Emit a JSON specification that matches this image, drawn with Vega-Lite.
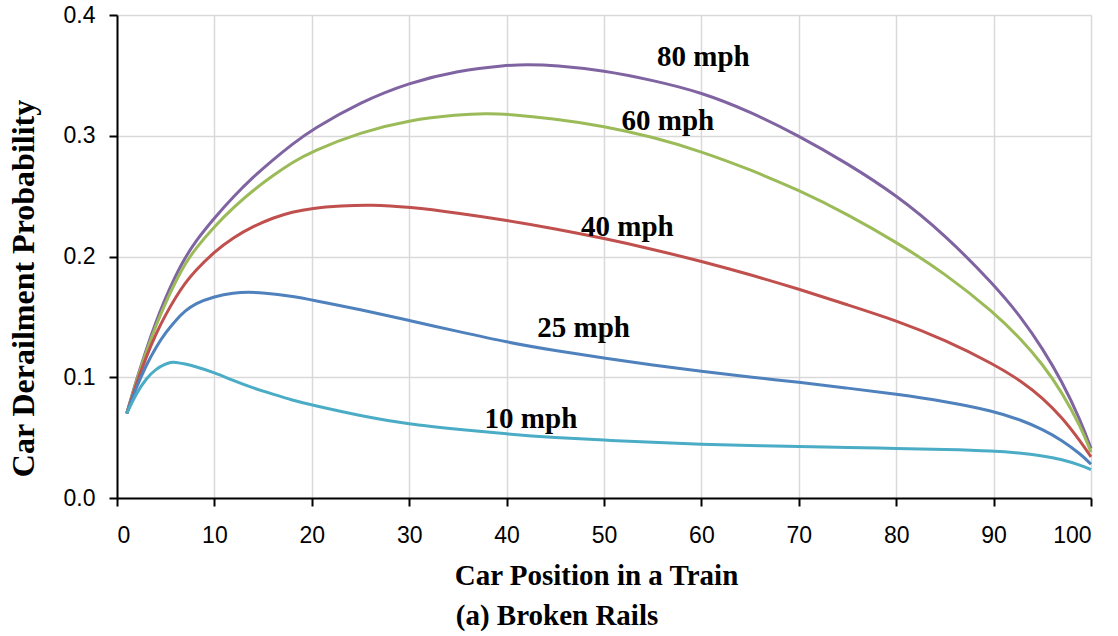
{
  "$schema": "https://vega.github.io/schema/vega-lite/v6.json",
  "width": 974,
  "height": 483,
  "autosize": {"type": "none"},
  "padding": {"left": 117, "top": 15, "right": 27, "bottom": 138},
  "background": "white",
  "config": {
    "view": {"stroke": null},
    "axis": {
      "grid": true,
      "gridColor": "#d9d9d9",
      "gridWidth": 1.5,
      "domainColor": "#000000",
      "domainWidth": 2,
      "tickColor": "#000000",
      "tickWidth": 2,
      "tickSize": 8,
      "labelFont": "Liberation Sans",
      "labelFontSize": 23,
      "labelColor": "#000000",
      "titleFont": "Liberation Serif",
      "titleFontWeight": "bold",
      "titleColor": "#000000"
    }
  },
  "title": {
    "text": "(a) Broken Rails",
    "orient": "bottom",
    "anchor": "middle",
    "dx": -47,
    "offset": 12,
    "font": "Liberation Serif",
    "fontWeight": "bold",
    "fontSize": 29,
    "color": "#000000"
  },
  "datasets": {
    "curves": [
      {"s":"80 mph","x":1,"p":0.070},{"s":"80 mph","x":2,"p":0.098},{"s":"80 mph","x":3,"p":0.123},{"s":"80 mph","x":4,"p":0.146},{"s":"80 mph","x":5,"p":0.166},{"s":"80 mph","x":6,"p":0.184},{"s":"80 mph","x":7,"p":0.199},{"s":"80 mph","x":8,"p":0.212},{"s":"80 mph","x":10,"p":0.232},{"s":"80 mph","x":12,"p":0.250},{"s":"80 mph","x":14,"p":0.266},{"s":"80 mph","x":16,"p":0.280},{"s":"80 mph","x":18,"p":0.293},{"s":"80 mph","x":20,"p":0.305},{"s":"80 mph","x":25,"p":0.328},{"s":"80 mph","x":30,"p":0.344},{"s":"80 mph","x":35,"p":0.354},{"s":"80 mph","x":40,"p":0.3585},{"s":"80 mph","x":42,"p":0.359},{"s":"80 mph","x":45,"p":0.3585},{"s":"80 mph","x":50,"p":0.354},{"s":"80 mph","x":55,"p":0.346},{"s":"80 mph","x":60,"p":0.336},{"s":"80 mph","x":65,"p":0.320},{"s":"80 mph","x":70,"p":0.300},{"s":"80 mph","x":75,"p":0.277},{"s":"80 mph","x":80,"p":0.251},{"s":"80 mph","x":85,"p":0.218},{"s":"80 mph","x":90,"p":0.177},{"s":"80 mph","x":93,"p":0.148},{"s":"80 mph","x":95,"p":0.124},{"s":"80 mph","x":97,"p":0.097},{"s":"80 mph","x":99,"p":0.063},{"s":"80 mph","x":100,"p":0.041},
      {"s":"60 mph","x":1,"p":0.070},{"s":"60 mph","x":2,"p":0.097},{"s":"60 mph","x":3,"p":0.121},{"s":"60 mph","x":4,"p":0.143},{"s":"60 mph","x":5,"p":0.162},{"s":"60 mph","x":6,"p":0.179},{"s":"60 mph","x":7,"p":0.194},{"s":"60 mph","x":8,"p":0.206},{"s":"60 mph","x":10,"p":0.225},{"s":"60 mph","x":12,"p":0.241},{"s":"60 mph","x":14,"p":0.255},{"s":"60 mph","x":16,"p":0.267},{"s":"60 mph","x":18,"p":0.278},{"s":"60 mph","x":20,"p":0.287},{"s":"60 mph","x":25,"p":0.303},{"s":"60 mph","x":30,"p":0.313},{"s":"60 mph","x":35,"p":0.3175},{"s":"60 mph","x":38,"p":0.3185},{"s":"60 mph","x":40,"p":0.318},{"s":"60 mph","x":45,"p":0.314},{"s":"60 mph","x":50,"p":0.308},{"s":"60 mph","x":55,"p":0.299},{"s":"60 mph","x":60,"p":0.287},{"s":"60 mph","x":65,"p":0.272},{"s":"60 mph","x":70,"p":0.255},{"s":"60 mph","x":75,"p":0.235},{"s":"60 mph","x":80,"p":0.212},{"s":"60 mph","x":85,"p":0.186},{"s":"60 mph","x":90,"p":0.154},{"s":"60 mph","x":93,"p":0.130},{"s":"60 mph","x":95,"p":0.111},{"s":"60 mph","x":97,"p":0.088},{"s":"60 mph","x":99,"p":0.058},{"s":"60 mph","x":100,"p":0.038},
      {"s":"40 mph","x":1,"p":0.070},{"s":"40 mph","x":2,"p":0.095},{"s":"40 mph","x":3,"p":0.117},{"s":"40 mph","x":4,"p":0.136},{"s":"40 mph","x":5,"p":0.152},{"s":"40 mph","x":6,"p":0.166},{"s":"40 mph","x":7,"p":0.178},{"s":"40 mph","x":8,"p":0.188},{"s":"40 mph","x":10,"p":0.204},{"s":"40 mph","x":12,"p":0.216},{"s":"40 mph","x":14,"p":0.225},{"s":"40 mph","x":16,"p":0.232},{"s":"40 mph","x":18,"p":0.237},{"s":"40 mph","x":20,"p":0.240},{"s":"40 mph","x":23,"p":0.242},{"s":"40 mph","x":26,"p":0.243},{"s":"40 mph","x":30,"p":0.241},{"s":"40 mph","x":35,"p":0.236},{"s":"40 mph","x":40,"p":0.230},{"s":"40 mph","x":45,"p":0.223},{"s":"40 mph","x":50,"p":0.215},{"s":"40 mph","x":55,"p":0.206},{"s":"40 mph","x":60,"p":0.196},{"s":"40 mph","x":65,"p":0.185},{"s":"40 mph","x":70,"p":0.173},{"s":"40 mph","x":75,"p":0.160},{"s":"40 mph","x":80,"p":0.147},{"s":"40 mph","x":85,"p":0.131},{"s":"40 mph","x":90,"p":0.111},{"s":"40 mph","x":93,"p":0.096},{"s":"40 mph","x":95,"p":0.083},{"s":"40 mph","x":97,"p":0.067},{"s":"40 mph","x":99,"p":0.046},{"s":"40 mph","x":100,"p":0.034},
      {"s":"25 mph","x":1,"p":0.070},{"s":"25 mph","x":2,"p":0.092},{"s":"25 mph","x":3,"p":0.110},{"s":"25 mph","x":4,"p":0.125},{"s":"25 mph","x":5,"p":0.137},{"s":"25 mph","x":6,"p":0.147},{"s":"25 mph","x":7,"p":0.155},{"s":"25 mph","x":8,"p":0.161},{"s":"25 mph","x":10,"p":0.167},{"s":"25 mph","x":12,"p":0.170},{"s":"25 mph","x":13.5,"p":0.1705},{"s":"25 mph","x":15,"p":0.170},{"s":"25 mph","x":18,"p":0.167},{"s":"25 mph","x":20,"p":0.164},{"s":"25 mph","x":25,"p":0.156},{"s":"25 mph","x":30,"p":0.147},{"s":"25 mph","x":35,"p":0.138},{"s":"25 mph","x":40,"p":0.129},{"s":"25 mph","x":45,"p":0.122},{"s":"25 mph","x":50,"p":0.116},{"s":"25 mph","x":55,"p":0.110},{"s":"25 mph","x":60,"p":0.105},{"s":"25 mph","x":65,"p":0.100},{"s":"25 mph","x":70,"p":0.096},{"s":"25 mph","x":75,"p":0.091},{"s":"25 mph","x":80,"p":0.086},{"s":"25 mph","x":85,"p":0.080},{"s":"25 mph","x":90,"p":0.072},{"s":"25 mph","x":93,"p":0.064},{"s":"25 mph","x":95,"p":0.057},{"s":"25 mph","x":97,"p":0.048},{"s":"25 mph","x":99,"p":0.036},{"s":"25 mph","x":100,"p":0.028},
      {"s":"10 mph","x":1,"p":0.070},{"s":"10 mph","x":2,"p":0.087},{"s":"10 mph","x":3,"p":0.099},{"s":"10 mph","x":4,"p":0.107},{"s":"10 mph","x":5,"p":0.111},{"s":"10 mph","x":5.5,"p":0.1125},{"s":"10 mph","x":6,"p":0.1125},{"s":"10 mph","x":7,"p":0.111},{"s":"10 mph","x":8,"p":0.109},{"s":"10 mph","x":10,"p":0.104},{"s":"10 mph","x":12,"p":0.097},{"s":"10 mph","x":14,"p":0.091},{"s":"10 mph","x":16,"p":0.086},{"s":"10 mph","x":18,"p":0.081},{"s":"10 mph","x":20,"p":0.077},{"s":"10 mph","x":25,"p":0.068},{"s":"10 mph","x":30,"p":0.061},{"s":"10 mph","x":35,"p":0.057},{"s":"10 mph","x":40,"p":0.053},{"s":"10 mph","x":45,"p":0.050},{"s":"10 mph","x":50,"p":0.048},{"s":"10 mph","x":55,"p":0.046},{"s":"10 mph","x":60,"p":0.0445},{"s":"10 mph","x":65,"p":0.0435},{"s":"10 mph","x":70,"p":0.0425},{"s":"10 mph","x":75,"p":0.042},{"s":"10 mph","x":80,"p":0.041},{"s":"10 mph","x":85,"p":0.0402},{"s":"10 mph","x":90,"p":0.039},{"s":"10 mph","x":93,"p":0.037},{"s":"10 mph","x":95,"p":0.035},{"s":"10 mph","x":97,"p":0.032},{"s":"10 mph","x":99,"p":0.027},{"s":"10 mph","x":100,"p":0.0235}
    ],
    "labels": [
      {"s":"80 mph","x":60.2,"p":0.3576},
      {"s":"60 mph","x":56.55,"p":0.3046},
      {"s":"40 mph","x":52.4,"p":0.2167},
      {"s":"25 mph","x":47.9,"p":0.1334},
      {"s":"10 mph","x":42.5,"p":0.058}
    ]
  },
  "layer": [
    {
      "data": {"name": "curves"},
      "mark": {"type": "line", "strokeWidth": 3, "interpolate": "basis"},
      "encoding": {
        "x": {
          "field": "x", "type": "quantitative",
          "scale": {"domain": [0, 100], "nice": false, "zero": false},
          "axis": {
            "values": [0,10,20,30,40,50,60,70,80,90,100],
            "labelPadding": 18,
            "title": "Car Position in a Train",
            "titleFontSize": 29,
            "titleX": 479,
            "titleY": 86,
            "titleBaseline": "alphabetic"
          }
        },
        "y": {
          "field": "p", "type": "quantitative",
          "scale": {"domain": [0, 0.4], "nice": false},
          "axis": {
            "values": [0, 0.1, 0.2, 0.3, 0.4],
            "format": ".1f",
            "labelPadding": 14,
            "title": "Car Derailment Probability",
            "titleFontSize": 32,
            "titleX": -84,
            "titleY": 273,
            "titleBaseline": "alphabetic",
            "titleAngle": -90
          }
        },
        "color": {
          "field": "s", "type": "nominal",
          "scale": {
            "domain": ["80 mph", "60 mph", "40 mph", "25 mph", "10 mph"],
            "range": ["#8064A2", "#9BBB59", "#C0504D", "#4F81BD", "#4BACC6"]
          },
          "legend": null
        },
        "detail": {"field": "s"}
      }
    },
    {
      "data": {"name": "labels"},
      "mark": {
        "type": "text",
        "font": "Liberation Serif",
        "fontWeight": "bold",
        "fontSize": 29,
        "color": "#000000",
        "align": "center",
        "baseline": "alphabetic"
      },
      "encoding": {
        "x": {"field": "x", "type": "quantitative"},
        "y": {"field": "p", "type": "quantitative"},
        "text": {"field": "s"}
      }
    }
  ]
}
